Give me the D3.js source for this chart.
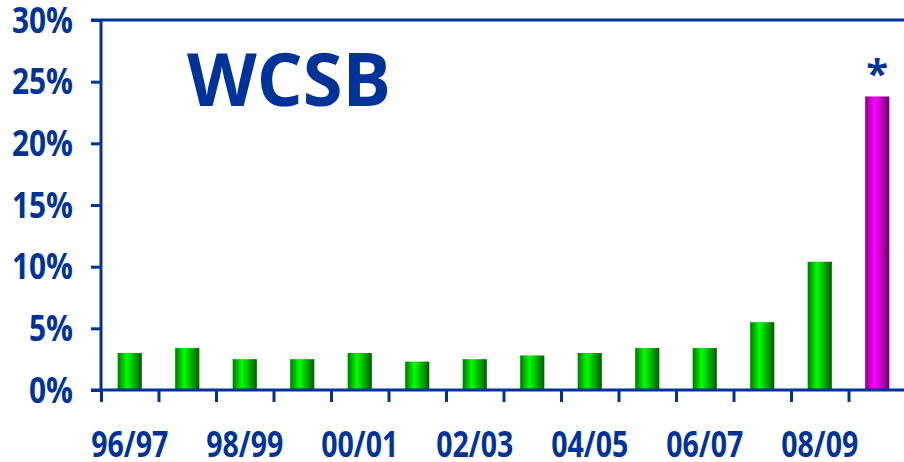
<!DOCTYPE html>
<html>
<head>
<meta charset="utf-8">
<script src="https://cdn.jsdelivr.net/npm/d3@7"></script>
<style>
  body { margin: 0; background: #fff; }
  svg { display: block; }
  text { font-family: "Open Sans", sans-serif; font-weight: bold; fill: #003399; }
</style>
</head>
<body>
<div id="visual-container"></div>
<script>
const years = ['96/97', '97/98', '98/99', '99/00', '00/01', '01/02', '02/03',
               '03/04', '04/05', '05/06', '06/07', '07/08', '08/09', '09/10']
const values = [3.0, 3.4, 2.5, 2.5, 3.0, 2.3, 2.5, 2.8, 3.0, 3.4, 3.4, 5.5, 10.4, 23.8]
const xLabels = ['96/97', '98/99', '00/01', '02/03', '04/05', '06/07', '08/09']
const yTicks = [0, 5, 10, 15, 20, 25, 30]
const forecast = '09/10'

const width = 904
const height = 462
const plotLeft = 101
const plotRight = 906
const plotTop = 20
const plotBottom = 390
const blue = '#003399'

let xScale
let edgeScale
let yScale

const container = document.getElementById('visual-container')
let svg = d3.select(container)
            .append('svg')
            .attr('width', width)
            .attr('height', height)

const defs = svg.append('defs')

const makeGradient = (id, dark, light, darker) => {
    let g = defs.append('linearGradient')
                .attr('id', id)
                .attr('x1', '0%').attr('x2', '100%')
                .attr('y1', '0%').attr('y2', '0%')
    g.append('stop').attr('offset', '0%').attr('stop-color', dark)
    g.append('stop').attr('offset', '38%').attr('stop-color', light)
    g.append('stop').attr('offset', '100%').attr('stop-color', darker)
}
makeGradient('green', '#007800', '#00ff00', '#005c00')
makeGradient('magenta', '#8a008a', '#ff00ff', '#700070')

const generateScales = () => {
    xScale = d3.scaleBand()
                .domain(years)
                .range([plotLeft, plotRight])
                .paddingInner(0.58)
                .paddingOuter(0.29)

    edgeScale = d3.scaleLinear()
                .domain([0, years.length])
                .range([plotLeft, plotRight])

    yScale = d3.scaleLinear()
                .domain([0, 30])
                .range([plotBottom, plotTop])
}

const drawBars = () => {
    svg.selectAll('rect.bar')
        .data(years)
        .enter()
        .append('rect')
        .attr('class', 'bar')
        .attr('x', d => xScale(d))
        .attr('width', xScale.bandwidth())
        .attr('y', (d, i) => yScale(values[i]))
        .attr('height', (d, i) => plotBottom - yScale(values[i]))
        .attr('fill', d => d === forecast ? 'url(#magenta)' : 'url(#green)')

    // asterisk over the forecast bar
    let i = years.indexOf(forecast)
    svg.append('text')
        .attr('x', xScale(forecast) + xScale.bandwidth() / 2)
        .attr('y', yScale(values[i]) - 8)
        .attr('text-anchor', 'middle')
        .style('font-size', '40px')
        .text('*')
}

const generateAxis = () => {
    // top border of the plot
    svg.append('line')
        .attr('x1', plotLeft - 10).attr('x2', plotRight)
        .attr('y1', plotTop).attr('y2', plotTop)
        .attr('stroke', blue).attr('stroke-width', 3)

    let yAxis = d3.axisLeft(yScale)
                    .tickValues(yTicks)
                    .tickSize(10)
                    .tickFormat('')
    let yG = svg.append('g')
        .attr('id', 'y-axis')
        .attr('transform', 'translate(' + plotLeft + ', 0)')
        .call(yAxis)
    yG.select('.domain').remove()
    yG.selectAll('line').attr('stroke', blue).attr('stroke-width', 3)

    svg.append('line')
        .attr('x1', plotLeft).attr('x2', plotLeft)
        .attr('y1', plotTop).attr('y2', plotBottom)
        .attr('stroke', blue).attr('stroke-width', 3)

    svg.selectAll('text.ylab')
        .data(yTicks)
        .enter()
        .append('text')
        .attr('class', 'ylab')
        .attr('x', 73)
        .attr('y', d => yScale(d) + 12.5)
        .attr('text-anchor', 'end')
        .style('font-size', '36px')
        .attr('textLength', d => d < 10 ? 44 : 61)
        .attr('lengthAdjust', 'spacingAndGlyphs')
        .text(d => d + '%')

    // ticks between categories
    let xAxis = d3.axisBottom(edgeScale)
                    .tickValues(d3.range(0, years.length + 1))
                    .tickSize(12)
                    .tickFormat('')
    let xG = svg.append('g')
        .attr('id', 'x-axis')
        .attr('transform', 'translate(0,' + plotBottom + ')')
        .call(xAxis)
    xG.select('.domain').remove()
    xG.selectAll('line').attr('stroke', blue).attr('stroke-width', 3)

    svg.append('line')
        .attr('x1', plotLeft - 10).attr('x2', plotRight)
        .attr('y1', plotBottom).attr('y2', plotBottom)
        .attr('stroke', blue).attr('stroke-width', 3)

    svg.selectAll('text.xlab')
        .data(xLabels)
        .enter()
        .append('text')
        .attr('class', 'xlab')
        .attr('x', d => xScale(d) + xScale.bandwidth() / 2)
        .attr('y', 457)
        .attr('text-anchor', 'middle')
        .style('font-size', '35px')
        .attr('textLength', 77)
        .attr('lengthAdjust', 'spacingAndGlyphs')
        .text(d => d)
}

const drawTitle = () => {
    svg.append('text')
        .attr('x', 187)
        .attr('y', 106)
        .style('font-size', '74px')
        .attr('textLength', 204)
        .attr('lengthAdjust', 'spacingAndGlyphs')
        .text('WCSB')
}

generateScales()
drawBars()
generateAxis()
drawTitle()
</script>
</body>
</html>
